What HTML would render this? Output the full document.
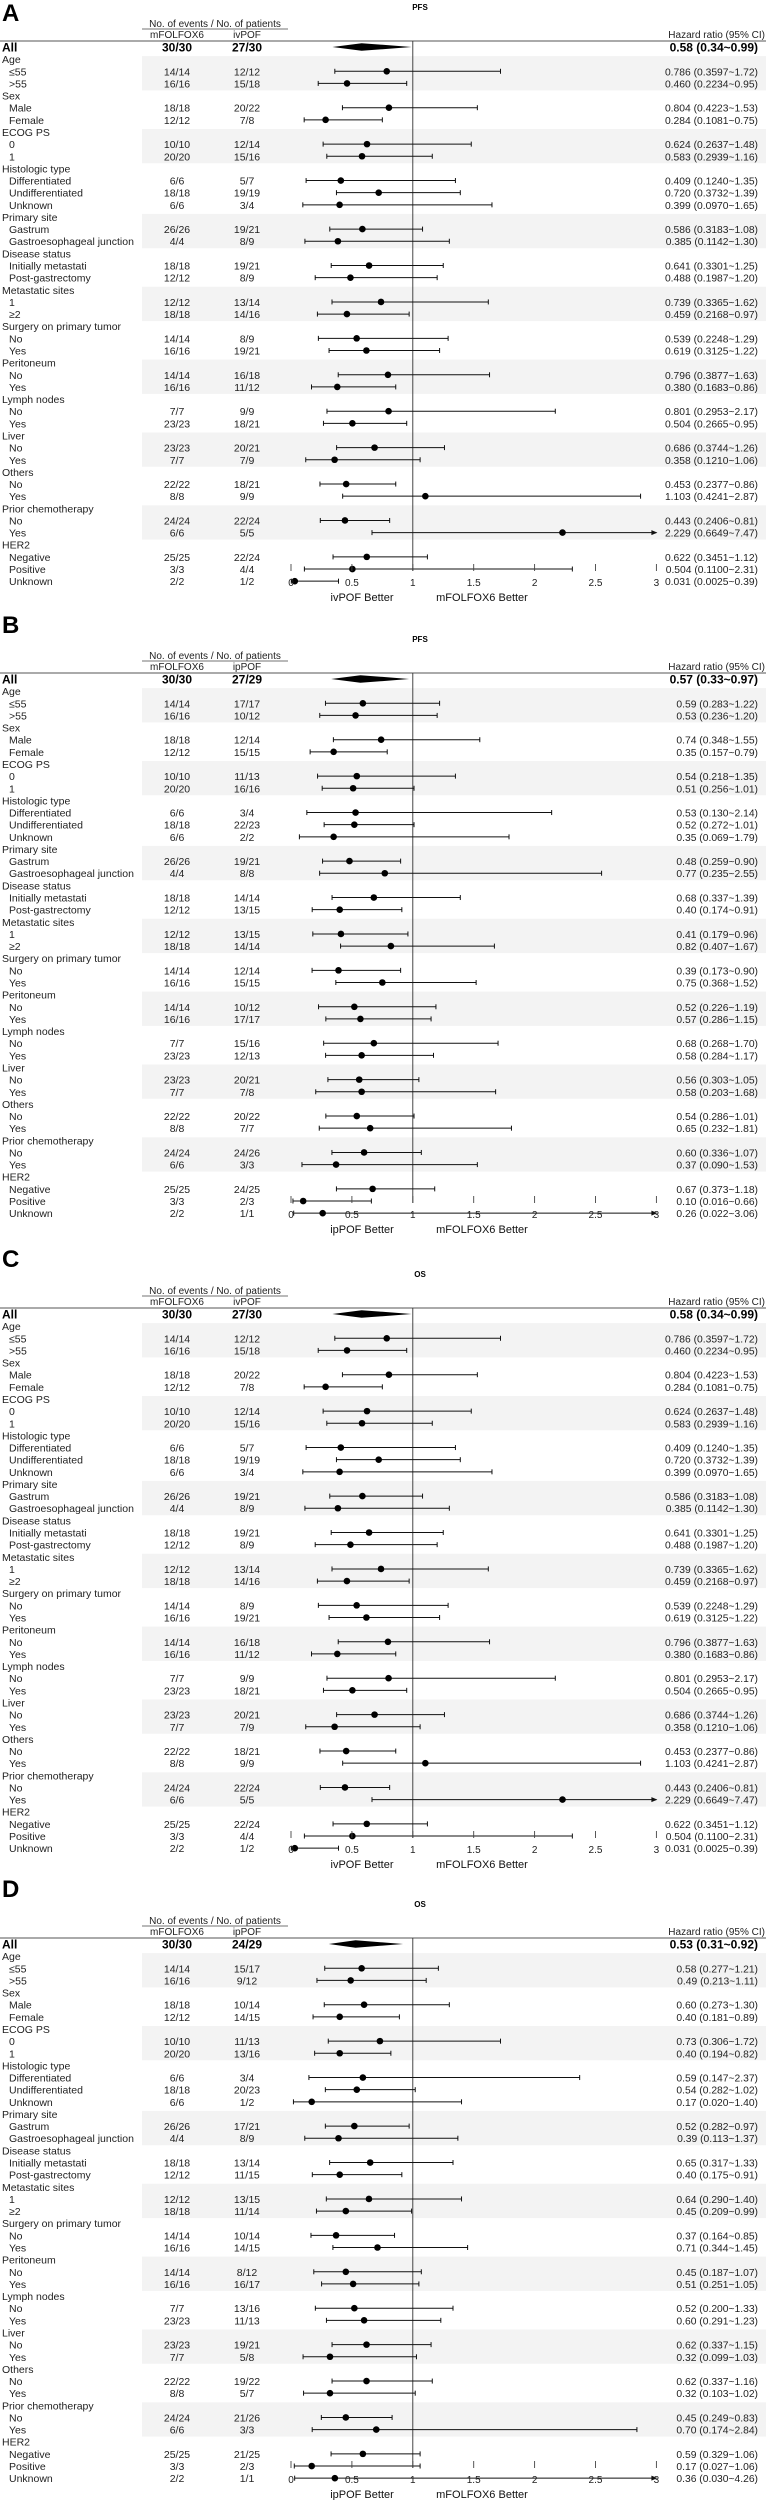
<!DOCTYPE html>
<html><head><meta charset="utf-8">
<style>
html,body{margin:0;padding:0;background:#fff;}
svg{display:block;font-family:"Liberation Sans",Arial,sans-serif;}
</style></head>
<body>
<svg id="fig" width="766" height="2500" viewBox="0 0 766 2500" xmlns="http://www.w3.org/2000/svg"></svg>
<script>
const rowLabels=["All","Age","≤55",">55","Sex","Male","Female","ECOG PS","0","1","Histologic type","Differentiated","Undifferentiated","Unknown","Primary site","Gastrum","Gastroesophageal junction","Disease status","Initially metastati","Post-gastrectomy","Metastatic sites","1","≥2","Surgery on primary tumor","No","Yes","Peritoneum","No","Yes","Lymph nodes","No","Yes","Liver","No","Yes","Others","No","Yes","Prior chemotherapy","No","Yes","HER2","Negative","Positive","Unknown"];
const rowIsHeader=[0,1,0,0,1,0,0,1,0,0,1,0,0,0,1,0,0,1,0,0,1,0,0,1,0,0,1,0,0,1,0,0,1,0,0,1,0,0,1,0,0,1,0,0,0];
const tickValues=[0,0.5,1,1.5,2,2.5,3];
const tickLabels=["0","0.5","1","1.5","2","2.5","3"];

// Panel A (PFS, mFOLFOX6 vs ivPOF) — subgroup rows only (All row separate)
const allA={mf:"30/30",arm:"27/30",hr:0.58,lo:0.34,hi:0.99,txt:"0.58 (0.34~0.99)"};
const mfA=["14/14","16/16","18/18","12/12","10/10","20/20","6/6","18/18","6/6","26/26","4/4","18/18","12/12","12/12","18/18","14/14","16/16","14/14","16/16","7/7","23/23","23/23","7/7","22/22","8/8","24/24","6/6","25/25","3/3","2/2"];
const armA=["12/12","15/18","20/22","7/8","12/14","15/16","5/7","19/19","3/4","19/21","8/9","19/21","8/9","13/14","14/16","8/9","19/21","16/18","11/12","9/9","18/21","20/21","7/9","18/21","9/9","22/24","5/5","22/24","4/4","1/2"];
const hrA=[0.786,0.460,0.804,0.284,0.624,0.583,0.409,0.720,0.399,0.586,0.385,0.641,0.488,0.739,0.459,0.539,0.619,0.796,0.380,0.801,0.504,0.686,0.358,0.453,1.103,0.443,2.229,0.622,0.504,0.031];
const loA=[0.3597,0.2234,0.4223,0.1081,0.2637,0.2939,0.1240,0.3732,0.0970,0.3183,0.1142,0.3301,0.1987,0.3365,0.2168,0.2248,0.3125,0.3877,0.1683,0.2953,0.2665,0.3744,0.1210,0.2377,0.4241,0.2406,0.6649,0.3451,0.1100,0.0025];
const hiA=[1.72,0.95,1.53,0.75,1.48,1.16,1.35,1.39,1.65,1.08,1.30,1.25,1.20,1.62,0.97,1.29,1.22,1.63,0.86,2.17,0.95,1.26,1.06,0.86,2.87,0.81,7.47,1.12,2.31,0.39];

// Panel B (PFS, mFOLFOX6 vs ipPOF)
const allB={mf:"30/30",arm:"27/29",hr:0.57,lo:0.33,hi:0.97,txt:"0.57 (0.33~0.97)"};
const mfB=mfA.slice();
const armB=["17/17","10/12","12/14","15/15","11/13","16/16","3/4","22/23","2/2","19/21","8/8","14/14","13/15","13/15","14/14","12/14","15/15","10/12","17/17","15/16","12/13","20/21","7/8","20/22","7/7","24/26","3/3","24/25","2/3","1/1"];
const hrB=[0.59,0.53,0.74,0.35,0.54,0.51,0.53,0.52,0.35,0.48,0.77,0.68,0.40,0.41,0.82,0.39,0.75,0.52,0.57,0.68,0.58,0.56,0.58,0.54,0.65,0.60,0.37,0.67,0.10,0.26];
const loB=[0.283,0.236,0.348,0.157,0.218,0.256,0.130,0.272,0.069,0.259,0.235,0.337,0.174,0.179,0.407,0.173,0.368,0.226,0.286,0.268,0.284,0.303,0.203,0.286,0.232,0.336,0.090,0.373,0.016,0.022];
const hiB=[1.22,1.20,1.55,0.79,1.35,1.01,2.14,1.01,1.79,0.90,2.55,1.39,0.91,0.96,1.67,0.90,1.52,1.19,1.15,1.70,1.17,1.05,1.68,1.01,1.81,1.07,1.53,1.18,0.66,3.06];

// Panel C (OS, mFOLFOX6 vs ivPOF)
const allC={mf:"30/30",arm:"27/30",hr:0.58,lo:0.34,hi:0.99,txt:"0.58 (0.34~0.99)"};
const mfC=mfA.slice();
const armC=armA.slice();
const hrC=[0.786,0.460,0.804,0.284,0.624,0.583,0.409,0.720,0.399,0.586,0.385,0.641,0.488,0.739,0.459,0.539,0.619,0.796,0.380,0.801,0.504,0.686,0.358,0.453,1.103,0.443,2.229,0.622,0.504,0.031];
const loC=[0.3597,0.2234,0.4223,0.1081,0.2637,0.2939,0.1240,0.3732,0.0970,0.3183,0.1142,0.3301,0.1987,0.3365,0.2168,0.2248,0.3125,0.3877,0.1683,0.2953,0.2665,0.3744,0.1210,0.2377,0.4241,0.2406,0.6649,0.3451,0.1100,0.0025];
const hiC=[1.72,0.95,1.53,0.75,1.48,1.16,1.35,1.39,1.65,1.08,1.30,1.25,1.20,1.62,0.97,1.29,1.22,1.63,0.86,2.17,0.95,1.26,1.06,0.86,2.87,0.81,7.47,1.12,2.31,0.39];

// Panel D (OS, mFOLFOX6 vs ipPOF)
const allD={mf:"30/30",arm:"24/29",hr:0.53,lo:0.31,hi:0.92,txt:"0.53 (0.31~0.92)"};
const mfD=mfA.slice();
const armD=["15/17","9/12","10/14","14/15","11/13","13/16","3/4","20/23","1/2","17/21","8/9","13/14","11/15","13/15","11/14","10/14","14/15","8/12","16/17","13/16","11/13","19/21","5/8","19/22","5/7","21/26","3/3","21/25","2/3","1/1"];
const hrD=[0.58,0.49,0.60,0.40,0.73,0.40,0.59,0.54,0.17,0.52,0.39,0.65,0.40,0.64,0.45,0.37,0.71,0.45,0.51,0.52,0.60,0.62,0.32,0.62,0.32,0.45,0.70,0.59,0.17,0.36];
const loD=[0.277,0.213,0.273,0.181,0.306,0.194,0.147,0.282,0.020,0.282,0.113,0.317,0.175,0.290,0.209,0.164,0.344,0.187,0.251,0.200,0.291,0.337,0.099,0.337,0.103,0.249,0.174,0.329,0.027,0.030];
const hiD=[1.21,1.11,1.30,0.89,1.72,0.82,2.37,1.02,1.40,0.97,1.37,1.33,0.91,1.40,0.99,0.85,1.45,1.07,1.05,1.33,1.23,1.15,1.03,1.16,1.02,0.83,2.84,1.06,1.06,4.26];

const NS="http://www.w3.org/2000/svg";
const svg=document.getElementById('fig');
const X0=291, UNIT=121.8, ROW0=47, ROWH=12.14;
function xScale(v){return X0+Math.min(v,3)*UNIT;}
function mk(tag,attrs,parent){const e=document.createElementNS(NS,tag);for(const k in attrs)e.setAttribute(k,attrs[k]);(parent||svg).appendChild(e);return e;}
function txt(s,attrs,parent){const e=mk('text',attrs,parent);e.textContent=s;return e;}
function fmt(v,d){return v.toFixed(d);}

function panel(letter,labelBase,O,title,armName,all,mf,arm,hr,lo,hi,hrDec,loDec,hiDec){
  const g=mk('g',{});
  
  
  const L=txt(letter,{x:2,y:labelBase,'font-size':24,'font-weight':'bold',fill:'#000'},g);
  
  
  const rowY=i=>O+ROW0+i*ROWH;
  // shaded bands
  let gi=-1;const heads=[];
  rowIsHeader.forEach((h,i)=>{if(h)heads.push(i);});
  heads.forEach((hi_,k)=>{
    const last=(k+1<heads.length?heads[k+1]-1:rowLabels.length-1);
    if(k%2===0){
      const r=mk('rect',{x:142,y:rowY(hi_)-3,width:624,height:rowY(last)-rowY(hi_)+10,fill:'#f3f3f3'},g);
      
      
    }
  });
  const t=txt(title,{x:420,y:O+10,'font-size':8,'font-weight':'bold','text-anchor':'middle'},g);
  
  
  const h1=txt('No. of events / No. of patients',{x:215,y:O+27,'font-size':10,'text-anchor':'middle',fill:'#222'},g);
  
  
  mk('line',{x1:142,x2:288,y1:O+29,y2:O+29,stroke:'#444','stroke-width':0.8},g);
  const c1=txt('mFOLFOX6',{x:177,y:O+38,'font-size':10,'text-anchor':'middle',fill:'#222'},g);
  
  
  const c2=txt(armName,{x:247,y:O+38,'font-size':10,'text-anchor':'middle',fill:'#222'},g);
  
  
  const c3=txt('Hazard ratio (95% CI)',{x:765,y:O+38,'font-size':10,'text-anchor':'end',fill:'#222'},g);
  
  
  mk('line',{x1:0,x2:766,y1:O+41,y2:O+41,stroke:'#555','stroke-width':1},g);
  // reference line at 1
  const ref=mk('line',{x1:xScale(1),x2:xScale(1),y1:O+41,y2:O+571,stroke:'#333','stroke-width':0.9},g);
  
  
  // All row
  const ya=rowY(0);
  const la=txt('All',{x:2,y:ya+4.5,'font-size':12,'font-weight':'bold'},g);
  
  
  txt(all.mf,{x:177,y:ya+4.5,'font-size':12,'font-weight':'bold','text-anchor':'middle'},g);
  txt(all.arm,{x:247,y:ya+4.5,'font-size':12,'font-weight':'bold','text-anchor':'middle'},g);
  const at=txt(all.txt,{x:758,y:ya+4.5,'font-size':12,'font-weight':'bold','text-anchor':'end'},g);
  
  
  const dm=mk('polygon',{points:`${xScale(all.lo)},${ya} ${xScale(all.hr)},${ya-3.8} ${xScale(all.hi)},${ya} ${xScale(all.hr)},${ya+3.8}`,fill:'#000'},g);
  
  
  // rows
  let d=0;
  for(let i=1;i<rowLabels.length;i++){
    const y=rowY(i);
    if(rowIsHeader[i]){
      const hl=txt(rowLabels[i],{x:2,y:y+4,'font-size':10.5,fill:'#222'},g);
      
      
      continue;
    }
    const lb=txt(rowLabels[i],{x:9,y:y+4,'font-size':10.5,fill:'#222'},g);
    
    
    txt(mf[d],{x:177,y:y+4,'font-size':10.5,'text-anchor':'middle',fill:'#222'},g);
    txt(arm[d],{x:247,y:y+4,'font-size':10.5,'text-anchor':'middle',fill:'#222'},g);
    const s=fmt(hr[d],hrDec)+' ('+fmt(lo[d],loDec)+'~'+fmt(hi[d],hiDec)+')';
    const ht=txt(s,{x:758,y:y+4,'font-size':10.3,'text-anchor':'end',fill:'#222'},g);
    
    
    const x1=xScale(lo[d]), x2=xScale(hi[d]);
    const ci=mk('line',{x1:x1,x2:x2,y1:y,y2:y,stroke:'#111','stroke-width':1},g);
    
    
    mk('line',{x1:x1,x2:x1,y1:y-2.5,y2:y+2.5,stroke:'#111','stroke-width':1},g);
    if(hi[d]>3){
      mk('polygon',{points:`${x2+1},${y} ${x2-5},${y-2.5} ${x2-5},${y+2.5}`,fill:'#111'},g);
    } else {
      mk('line',{x1:x2,x2:x2,y1:y-2.5,y2:y+2.5,stroke:'#111','stroke-width':1},g);
    }
    const pt=mk('circle',{cx:xScale(hr[d]),cy:y,r:3.3,fill:'#000'},g);
    
    
    d++;
  }
  // axis
  tickValues.forEach((v,k)=>{
    const x=xScale(v);
    mk('line',{x1:x,x2:x,y1:O+564,y2:O+571,stroke:'#444','stroke-width':0.9},g);
    const tl=txt(tickLabels[k],{x:x,y:O+586,'font-size':10,'text-anchor':'middle',fill:'#222'},g);
    
    
  });
  const b1=txt(armName+' Better',{x:362,y:O+601,'font-size':11,'text-anchor':'middle',fill:'#111'},g);
  
  
  const b2=txt('mFOLFOX6 Better',{x:482,y:O+601,'font-size':11,'text-anchor':'middle',fill:'#111'},g);
  
  
}
panel('A',21,0,'PFS','ivPOF',allA,mfA,armA,hrA,loA,hiA,3,4,2);
panel('B',633,632,'PFS','ipPOF',allB,mfB,armB,hrB,loB,hiB,2,3,2);
panel('C',1267,1267,'OS','ivPOF',allC,mfC,armC,hrC,loC,hiC,3,4,2);
panel('D',1897,1897,'OS','ipPOF',allD,mfD,armD,hrD,loD,hiD,2,3,2);
</script>
</body></html>
